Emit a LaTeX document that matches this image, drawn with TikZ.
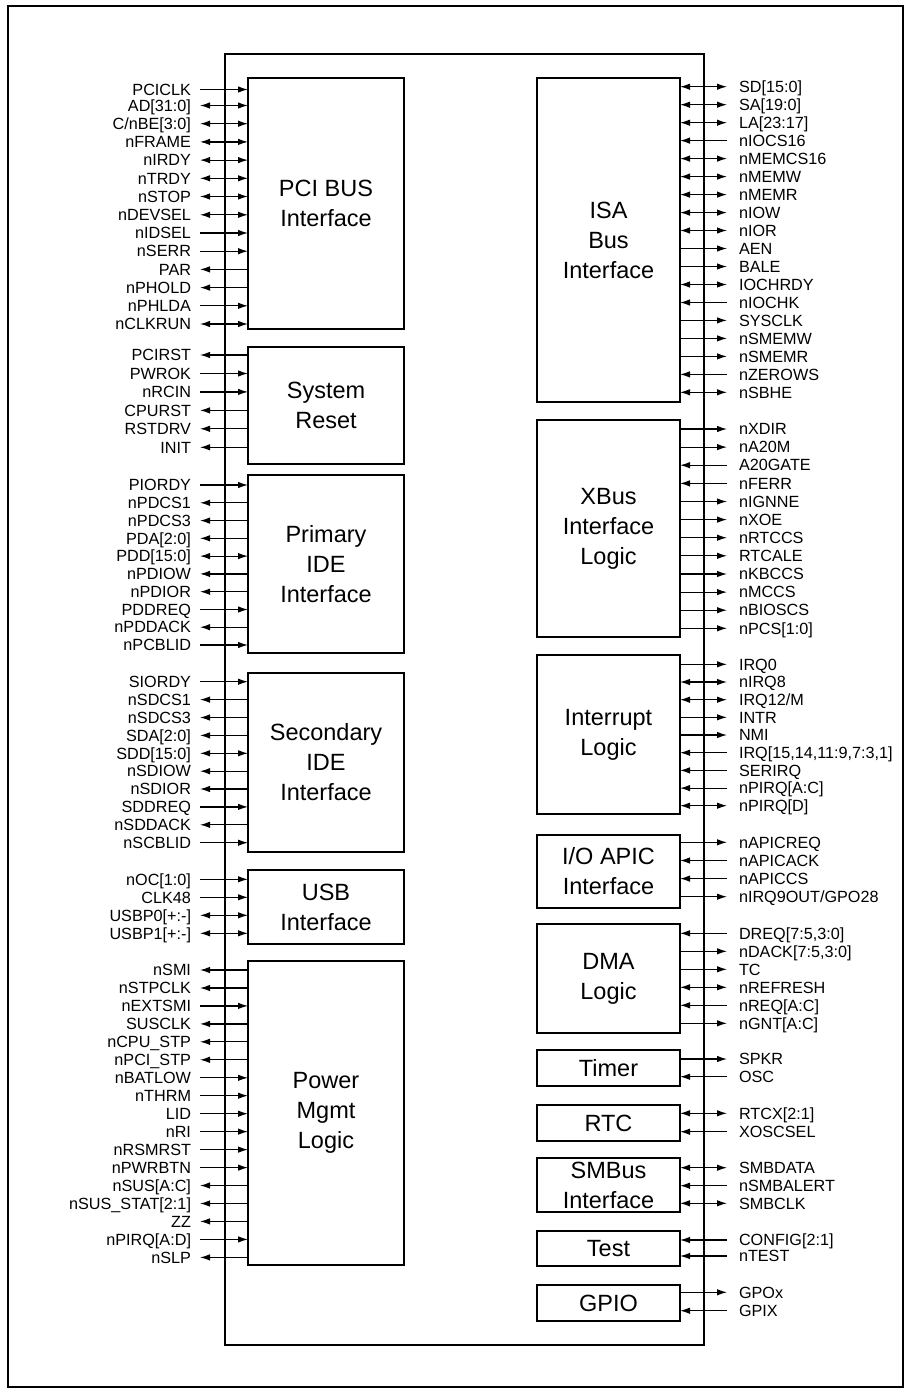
\documentclass[tikz,border=0pt]{standalone}
\usepackage{fontspec}
\setmainfont{Liberation Sans}
\usetikzlibrary{arrows.meta}
\tikzset{
 lbl/.style={font=\fontsize{16.2}{18}\selectfont, inner sep=0pt, outer sep=0pt, text height=11.5pt, text depth=0pt},
 blk/.style={draw, line width=1.3pt, inner sep=0pt, outer sep=0pt, align=center, font=\fontsize{23.5}{30}\selectfont},
 sig/.style={line width=1.2pt},
 frm/.style={draw, line width=1.3pt},
 fw/.style={-{Latex[length=10pt,width=6.5pt]}},
 bw/.style={{Latex[length=10pt,width=6.5pt]}-},
 bb/.style={{Latex[length=10pt,width=6.5pt]}-{Latex[length=10pt,width=6.5pt]}},
}
\newcommand\Lsig[5]{\node[lbl,anchor=east] (#1) at (191,#2) {#3};
 \draw[sig,#4] ([xshift=9pt]#1.east) -- (#5.west |- #1.east);}
\newcommand\Rsig[5]{\node[lbl,anchor=west] (#1) at (739,#2) {#3};
 \draw[sig,#4] (#5.east |- #1.west) -- ([xshift=-12pt]#1.west);}
\begin{document}
\begin{tikzpicture}[x=1pt,y=-1pt]
\useasboundingbox (0,0) rectangle (909,1393);
\draw[frm] (8,6) rectangle (903,1387);
\draw[frm] (225,54) rectangle (704,1345);
% left blocks
\node[blk, minimum width=156pt, minimum height=251pt] (pci) at (326,203.5) {PCI BUS\\Interface};
\node[blk, minimum width=156pt, minimum height=117pt] (rst) at (326,405.5) {System\\Reset};
\node[blk, minimum width=156pt, minimum height=178pt] (pide) at (326,564) {Primary\\IDE\\Interface};
\node[blk, minimum width=156pt, minimum height=179pt] (side) at (326,762.5) {Secondary\\IDE\\Interface};
\node[blk, minimum width=156pt, minimum height=74pt] (usb) at (326,907) {USB\\Interface};
\node[blk, minimum width=156pt, minimum height=304pt] (pm) at (326,1113) {Power\\Mgmt\\Logic};
% right blocks
\node[blk, minimum width=143pt, minimum height=324pt] (isa) at (608.5,240) {ISA\\Bus\\Interface};
\node[blk, minimum width=143pt, minimum height=217pt] (xbus) at (608.5,528.5) {XBus\\Interface\\Logic};
\node[blk, minimum width=143pt, minimum height=159pt] (intr) at (608.5,734.5) {Interrupt\\Logic};
\node[blk, minimum width=143pt, minimum height=73pt] (apic) at (608.5,871.5) {I/O APIC\\Interface};
\node[blk, minimum width=143pt, minimum height=109pt] (dma) at (608.5,978.5) {DMA\\Logic};
\node[blk, minimum width=143pt, minimum height=36pt] (timer) at (608.5,1068) {Timer};
\node[blk, minimum width=143pt, minimum height=36pt] (rtc) at (608.5,1123) {RTC};
\node[blk, minimum width=143pt, minimum height=54pt] (smb) at (608.5,1185) {SMBus\\Interface};
\node[blk, minimum width=143pt, minimum height=35pt] (test) at (608.5,1248.5) {Test};
\node[blk, minimum width=143pt, minimum height=36pt] (gpio) at (608.5,1303) {GPIO};
% PCI
\Lsig{a1}{89.5}{PCICLK}{fw}{pci}
\Lsig{a2}{105.5}{AD[31:0]}{bb}{pci}
\Lsig{a3}{123.7}{C/nBE[3:0]}{bb}{pci}
\Lsig{a4}{141.9}{nFRAME}{bb}{pci}
\Lsig{a5}{160.1}{nIRDY}{bb}{pci}
\Lsig{a6}{178.3}{nTRDY}{bb}{pci}
\Lsig{a7}{196.5}{nSTOP}{bb}{pci}
\Lsig{a8}{214.8}{nDEVSEL}{bb}{pci}
\Lsig{a9}{233.0}{nIDSEL}{fw}{pci}
\Lsig{a10}{251.2}{nSERR}{fw}{pci}
\Lsig{a11}{269.4}{PAR}{bw}{pci}
\Lsig{a12}{287.6}{nPHOLD}{bw}{pci}
\Lsig{a13}{305.8}{nPHLDA}{fw}{pci}
\Lsig{a14}{324.0}{nCLKRUN}{bb}{pci}
% Reset
\Lsig{b1}{355}{PCIRST}{bw}{rst}
\Lsig{b2}{373.5}{PWROK}{fw}{rst}
\Lsig{b3}{391.9}{nRCIN}{fw}{rst}
\Lsig{b4}{410.4}{CPURST}{bw}{rst}
\Lsig{b5}{428.8}{RSTDRV}{bw}{rst}
\Lsig{b6}{447.3}{INIT}{bw}{rst}
% Primary IDE
\Lsig{c1}{485}{PIORDY}{fw}{pide}
\Lsig{c2}{502.8}{nPDCS1}{bw}{pide}
\Lsig{c3}{520.6}{nPDCS3}{bw}{pide}
\Lsig{c4}{538.3}{PDA[2:0]}{bw}{pide}
\Lsig{c5}{556.1}{PDD[15:0]}{bb}{pide}
\Lsig{c6}{573.9}{nPDIOW}{bw}{pide}
\Lsig{c7}{591.7}{nPDIOR}{bw}{pide}
\Lsig{c8}{609.5}{PDDREQ}{fw}{pide}
\Lsig{c9}{627.2}{nPDDACK}{bw}{pide}
\Lsig{c10}{645}{nPCBLID}{fw}{pide}
% Secondary IDE
\Lsig{d1}{681.7}{SIORDY}{fw}{side}
\Lsig{d2}{699.6}{nSDCS1}{bw}{side}
\Lsig{d3}{717.5}{nSDCS3}{bw}{side}
\Lsig{d4}{735.4}{SDA[2:0]}{bw}{side}
\Lsig{d5}{753.3}{SDD[15:0]}{bb}{side}
\Lsig{d6}{771.2}{nSDIOW}{bw}{side}
\Lsig{d7}{789.0}{nSDIOR}{bw}{side}
\Lsig{d8}{806.9}{SDDREQ}{fw}{side}
\Lsig{d9}{824.8}{nSDDACK}{bw}{side}
\Lsig{d10}{842.7}{nSCBLID}{fw}{side}
% USB
\Lsig{e1}{879.3}{nOC[1:0]}{fw}{usb}
\Lsig{e2}{897.3}{CLK48}{fw}{usb}
\Lsig{e3}{915.3}{USBP0[+:-]}{bb}{usb}
\Lsig{e4}{933.3}{USBP1[+:-]}{bb}{usb}
% Power mgmt
\Lsig{f1}{970}{nSMI}{bw}{pm}
\Lsig{f2}{988.0}{nSTPCLK}{bw}{pm}
\Lsig{f3}{1005.9}{nEXTSMI}{fw}{pm}
\Lsig{f4}{1023.9}{SUSCLK}{bw}{pm}
\Lsig{f5}{1041.8}{nCPU\_STP}{bw}{pm}
\Lsig{f6}{1059.8}{nPCI\_STP}{bw}{pm}
\Lsig{f7}{1077.8}{nBATLOW}{fw}{pm}
\Lsig{f8}{1095.7}{nTHRM}{fw}{pm}
\Lsig{f9}{1113.7}{LID}{fw}{pm}
\Lsig{f10}{1131.6}{nRI}{fw}{pm}
\Lsig{f11}{1149.6}{nRSMRST}{fw}{pm}
\Lsig{f12}{1167.6}{nPWRBTN}{fw}{pm}
\Lsig{f13}{1185.5}{nSUS[A:C]}{bw}{pm}
\Lsig{f14}{1203.5}{nSUS\_STAT[2:1]}{bw}{pm}
\Lsig{f15}{1221.4}{ZZ}{bw}{pm}
\Lsig{f16}{1239.4}{nPIRQ[A:D]}{fw}{pm}
\Lsig{f17}{1257.4}{nSLP}{bw}{pm}
% ISA
\Rsig{g1}{86.7}{SD[15:0]}{bb}{isa}
\Rsig{g2}{104.7}{SA[19:0]}{bb}{isa}
\Rsig{g3}{122.7}{LA[23:17]}{bb}{isa}
\Rsig{g4}{140.6}{nIOCS16}{bw}{isa}
\Rsig{g5}{158.6}{nMEMCS16}{bb}{isa}
\Rsig{g6}{176.6}{nMEMW}{bb}{isa}
\Rsig{g7}{194.6}{nMEMR}{bb}{isa}
\Rsig{g8}{212.6}{nIOW}{bb}{isa}
\Rsig{g9}{230.5}{nIOR}{bb}{isa}
\Rsig{g10}{248.5}{AEN}{fw}{isa}
\Rsig{g11}{266.5}{BALE}{fw}{isa}
\Rsig{g12}{284.5}{IOCHRDY}{bb}{isa}
\Rsig{g13}{302.5}{nIOCHK}{bw}{isa}
\Rsig{g14}{320.4}{SYSCLK}{fw}{isa}
\Rsig{g15}{338.4}{nSMEMW}{fw}{isa}
\Rsig{g16}{356.4}{nSMEMR}{fw}{isa}
\Rsig{g17}{374.4}{nZEROWS}{bw}{isa}
\Rsig{g18}{392.3}{nSBHE}{bb}{isa}
% XBus
\Rsig{h1}{429}{nXDIR}{fw}{xbus}
\Rsig{h2}{447.1}{nA20M}{fw}{xbus}
\Rsig{h3}{465.2}{A20GATE}{bw}{xbus}
\Rsig{h4}{483.4}{nFERR}{bw}{xbus}
\Rsig{h5}{501.5}{nIGNNE}{fw}{xbus}
\Rsig{h6}{519.6}{nXOE}{fw}{xbus}
\Rsig{h7}{537.7}{nRTCCS}{fw}{xbus}
\Rsig{h8}{555.8}{RTCALE}{fw}{xbus}
\Rsig{h9}{574.0}{nKBCCS}{fw}{xbus}
\Rsig{h10}{592.1}{nMCCS}{fw}{xbus}
\Rsig{h11}{610.2}{nBIOSCS}{fw}{xbus}
\Rsig{h12}{628.3}{nPCS[1:0]}{fw}{xbus}
% Interrupt
\Rsig{i1}{664.3}{IRQ0}{fw}{intr}
\Rsig{i2}{682.0}{nIRQ8}{bb}{intr}
\Rsig{i3}{699.7}{IRQ12/M}{bb}{intr}
\Rsig{i4}{717.3}{INTR}{fw}{intr}
\Rsig{i5}{735.0}{NMI}{fw}{intr}
\Rsig{i6}{752.7}{IRQ[15,14,11:9,7:3,1]}{bw}{intr}
\Rsig{i7}{770.4}{SERIRQ}{bw}{intr}
\Rsig{i8}{788.1}{nPIRQ[A:C]}{bw}{intr}
\Rsig{i9}{805.7}{nPIRQ[D]}{bb}{intr}
% APIC
\Rsig{j1}{842.3}{nAPICREQ}{fw}{apic}
\Rsig{j2}{860.5}{nAPICACK}{bw}{apic}
\Rsig{j3}{878.6}{nAPICCS}{bw}{apic}
\Rsig{j4}{896.7}{nIRQ9OUT/GPO28}{fw}{apic}
% DMA
\Rsig{k1}{933.3}{DREQ[7:5,3:0]}{bw}{dma}
\Rsig{k2}{951.3}{nDACK[7:5,3:0]}{fw}{dma}
\Rsig{k3}{969.3}{TC}{fw}{dma}
\Rsig{k4}{987.3}{nREFRESH}{bb}{dma}
\Rsig{k5}{1005.3}{nREQ[A:C]}{bw}{dma}
\Rsig{k6}{1023.3}{nGNT[A:C]}{fw}{dma}
% Timer
\Rsig{l1}{1059}{SPKR}{fw}{timer}
\Rsig{l2}{1076.7}{OSC}{bw}{timer}
% RTC
\Rsig{m1}{1113.3}{RTCX[2:1]}{bb}{rtc}
\Rsig{m2}{1131.7}{XOSCSEL}{bw}{rtc}
% SMBus
\Rsig{n1}{1167.7}{SMBDATA}{bb}{smb}
\Rsig{n2}{1185.7}{nSMBALERT}{bw}{smb}
\Rsig{n3}{1203.3}{SMBCLK}{bb}{smb}
% Test
\Rsig{o1}{1240}{CONFIG[2:1]}{bw}{test}
\Rsig{o2}{1256}{nTEST}{bw}{test}
% GPIO
\Rsig{p1}{1292.3}{GPOx}{fw}{gpio}
\Rsig{p2}{1310.7}{GPIX}{bw}{gpio}
\end{tikzpicture}
\end{document}
